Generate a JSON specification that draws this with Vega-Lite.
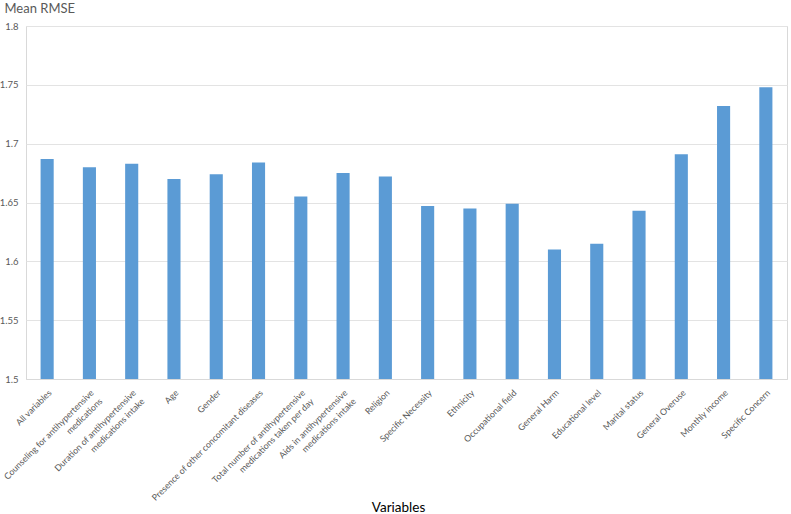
{
  "$schema": "https://vega.github.io/schema/vega-lite/v6.json",
  "autosize": "none",
  "width": 761,
  "height": 353,
  "padding": {"left": 26, "top": 26, "right": 4, "bottom": 135},
  "background": "white",
  "config": {
    "font": "Lato",
    "view": {"stroke": "#d9d9d9", "strokeWidth": 1}
  },
  "data": {
    "values": [
      {"variable": "All variables", "rmse": 1.687},
      {"variable": "Counseling for antihypertensive medications", "rmse": 1.680},
      {"variable": "Duration of antihypertensive medications intake", "rmse": 1.683},
      {"variable": "Age", "rmse": 1.670},
      {"variable": "Gender", "rmse": 1.674},
      {"variable": "Presence of other concomitant diseases", "rmse": 1.684},
      {"variable": "Total number of antihypertensive medications taken per day", "rmse": 1.655},
      {"variable": "Aids in antihypertensive medications intake", "rmse": 1.675},
      {"variable": "Religion", "rmse": 1.672},
      {"variable": "Specific Necessity", "rmse": 1.647},
      {"variable": "Ethnicity", "rmse": 1.645},
      {"variable": "Occupational field", "rmse": 1.649},
      {"variable": "General Harm", "rmse": 1.610},
      {"variable": "Educational level", "rmse": 1.615},
      {"variable": "Marital status", "rmse": 1.643},
      {"variable": "General Overuse", "rmse": 1.691},
      {"variable": "Monthly income", "rmse": 1.732},
      {"variable": "Specific Concern", "rmse": 1.748}
    ]
  },
  "mark": {"type": "bar", "color": "#5b9bd5", "clip": true},
  "encoding": {
    "x": {
      "field": "variable",
      "type": "nominal",
      "sort": null,
      "scale": {"paddingInner": 0.69, "paddingOuter": 0.345},
      "axis": {
        "title": "Variables",
        "titleFontSize": 13.5,
        "titleFontWeight": "normal",
        "titleColor": "#000000",
        "titleX": 372,
        "titleAlign": "center",
        "titleY": 132,
        "titleBaseline": "alphabetic",
        "labelAngle": -45,
        "labelAlign": "right",
        "labelBaseline": "top",
        "labelFontSize": 8.8,
        "labelColor": "#595959",
        "labelPadding": 9,
        "labelLimit": 300,
        "labelLineHeight": 12,
        "labelExpr": "indexof(datum.label, 'antihypertensive ') < 0 ? datum.label : [substring(datum.label, 0, indexof(datum.label, 'antihypertensive ') + 16), pad(substring(datum.label, indexof(datum.label, 'antihypertensive ') + 17), length(datum.label) - indexof(datum.label, 'antihypertensive ') - 17 + round(1.3 * abs((indexof(datum.label, 'antihypertensive ') + 16) - (length(datum.label) - indexof(datum.label, 'antihypertensive ') - 17))), '\u00a0')]",
        "ticks": false,
        "domainColor": "#d9d9d9",
        "grid": false
      }
    },
    "y": {
      "field": "rmse",
      "type": "quantitative",
      "scale": {"domain": [1.5, 1.8], "zero": false, "nice": false},
      "axis": {
        "title": "Mean RMSE",
        "titleAngle": 0,
        "titleAlign": "left",
        "titleBaseline": "alphabetic",
        "titleX": -22,
        "titleY": -14,
        "titleFontSize": 13,
        "titleFontWeight": "normal",
        "titleColor": "#595959",
        "values": [1.5, 1.55, 1.6, 1.65, 1.7, 1.75, 1.8],
        "format": ".2~f",
        "labelFontSize": 9.5,
        "labelColor": "#595959",
        "labelPadding": 8,
        "ticks": false,
        "domain": false,
        "gridColor": "#e3e3e3",
        "gridWidth": 1
      }
    }
  }
}
